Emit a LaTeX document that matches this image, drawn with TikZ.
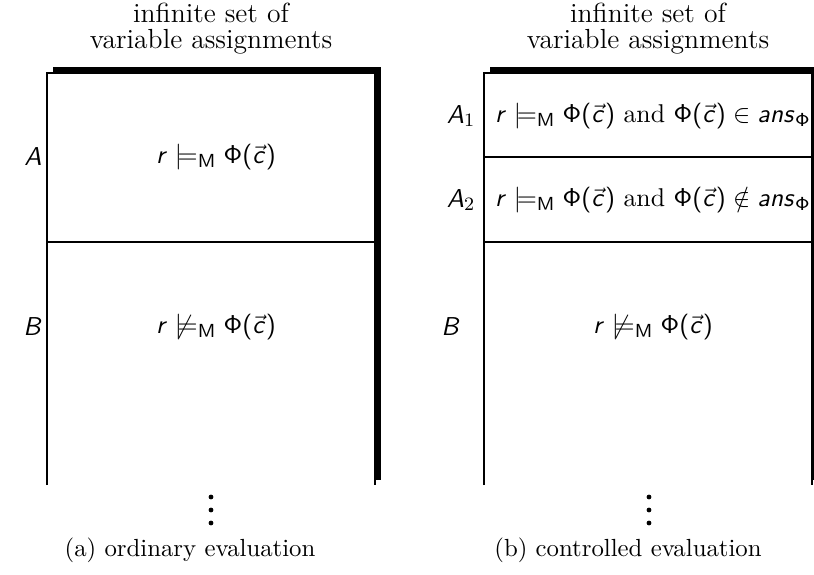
\documentclass[tikz,border=0pt]{standalone}
\usepackage{amsmath}
\DeclareMathAlphabet{\mathsfit}{OT1}{cmss}{m}{sl}
\newcommand{\myr}{\mathsfit{r}}
\newcommand{\myPhic}{\mathsf{\Phi}\textsf{(}\vec{\mathsfit{c}}\textsf{)}}
\newcommand{\myans}{\mathsfit{ans}_{\mathsf{\Phi}}}
\begin{document}
\begin{tikzpicture}[x=0.4237pt,y=-0.4237pt,
  shadowfill/.style={fill=black},
  frame/.style={draw=black,line width=0.45pt},
  boxfill/.style={fill=white},
  txt/.style={inner sep=0pt,anchor=center},
  headtxt/.style={txt,align=center,font=\fontsize{11.7}{11}\selectfont},
  mathtxt/.style={txt,font=\fontsize{10.9}{13}\selectfont},
  captxt/.style={txt,font=\fontsize{10.5}{12}\selectfont},
  dotmark/.style={fill=black,radius=2.4}]
\useasboundingbox (0,0) rectangle (814,574);
% ---------- left panel ----------
\fill[shadowfill] (53,67) rectangle (381,480);
\fill[boxfill] (47,73) rectangle (375,485);
\coordinate (LBL) at (47,485);
\coordinate (LTL) at (47,73);
\coordinate (LTR) at (375,73);
\coordinate (LBR) at (375,485);
\coordinate (LML) at (47,242);
\coordinate (LMR) at (375,242);
\draw[frame] (LBL) -- (LTL) -- (LTR) -- (LBR);
\draw[frame] (LML) -- (LMR);
\node[headtxt] (lhead) at (211,29) {infinite set of\\variable assignments};
\node[mathtxt] (lA) at (33,157) {$\mathsfit{A}$};
\node[mathtxt] (lB) at (33,327) {$\mathsfit{B}$};
\node[mathtxt] (lAtext) at (216,157) {$\myr \models_{\mathsf{M}} \myPhic$};
\node[mathtxt] (lBtext) at (216,327) {$\myr \not\models_{\mathsf{M}} \myPhic$};
\foreach \yy in {497,510,523} \fill (211,\yy) circle[dotmark];
\node[captxt] (lcap) at (190,550) {(a) ordinary evaluation};
% ---------- right panel ----------
\fill[shadowfill] (490,67) rectangle (818,480);
\fill[boxfill] (484,73) rectangle (812,485);
\coordinate (RBL) at (484,485);
\coordinate (RTL) at (484,73);
\coordinate (RTR) at (812,73);
\coordinate (RBR) at (812,485);
\coordinate (RM1L) at (484,157);
\coordinate (RM1R) at (812,157);
\coordinate (RM2L) at (484,242);
\coordinate (RM2R) at (812,242);
\draw[frame] (RBL) -- (RTL) -- (RTR) -- (RBR);
\draw[frame] (RM1L) -- (RM1R);
\draw[frame] (RM2L) -- (RM2R);
\node[headtxt] (rhead) at (648,29) {infinite set of\\variable assignments};
\node[mathtxt] (rA1) at (461,116) {$\mathsfit{A}_1$};
\node[mathtxt] (rA2) at (461,200) {$\mathsfit{A}_2$};
\node[mathtxt] (rB) at (451,327) {$\mathsfit{B}$};
\node[mathtxt] (rA1text) at (653,116) {$\myr \models_{\mathsf{M}} \myPhic$ and $\myPhic \in \myans$};
\node[mathtxt] (rA2text) at (653,200) {$\myr \models_{\mathsf{M}} \myPhic$ and $\myPhic \notin \myans$};
\node[mathtxt] (rBtext) at (653,327) {$\myr \not\models_{\mathsf{M}} \myPhic$};
\foreach \yy in {497,510,523} \fill (649,\yy) circle[dotmark];
\node[captxt] (rcap) at (628,550) {(b) controlled evaluation};
\end{tikzpicture}
\end{document}
